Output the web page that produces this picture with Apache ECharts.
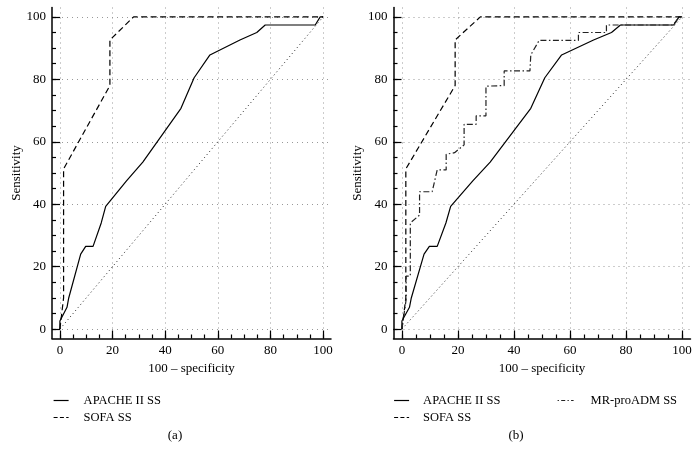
<!DOCTYPE html>
<html><head><meta charset="utf-8">
<script src="https://cdn.jsdelivr.net/npm/echarts@6/dist/echarts.min.js"></script>
<style>html,body{margin:0;padding:0;background:#fff}#c{width:700px;height:451px}</style>
</head><body><div id="c"></div>
<script>
// ---- data ----
const majorTicks = [0, 20, 40, 60, 80, 100];
const minorTicks = [0, 5, 10, 15, 20, 25, 30, 35, 40, 45, 50, 55, 60, 65, 70, 75, 80, 85, 90, 95, 100];
const seriesNames = ['APACHE II SS', 'SOFA SS', 'MR-proADM SS'];
const panelCaptions = ['(a)', '(b)'];
const xAxisTitle = '100 \u2013 specificity';
const yAxisTitle = 'Sensitivity';

const apache = [[0,0],[0,2.6],[2.7,7],[3.3,9.8],[7.9,24],[9.8,26.5],[12.6,26.5],[15.7,34],[17.4,39.3],[25.3,47.5],[31.5,53.5],[46,70.7],[51,80.5],[57,87.8],[68.4,92.6],[74.8,95],[78,97.4],[97,97.4],[98.9,100],[100,100]];
const sofa = [[0,0],[1.4,10],[1.4,51.3],[19,78],[19,92.6],[28,100],[100,100]];
const mrproadm = [[0,0],[1.5,9.4],[1.5,17],[3,17],[3,34],[6.3,36.5],[6.3,44],[10.8,44],[12.6,51],[15.8,51],[15.8,56],[18.8,56.5],[22.2,59],[22.2,65.6],[26.5,65.6],[26.5,68.3],[30,68.3],[30,77.8],[36.5,78],[36.5,82.7],[45.7,82.7],[46,87.8],[49,92.5],[63,92.5],[63,95],[73,95],[73,97.4],[96.8,97.4],[99,100],[100,100]];
const diagonal = [[0,0],[100,100]];

// ---- styles ----
const FONT = 'Liberation Serif';
const AX_MIN = -3, AX_MAX = 103;
const grids = [
  {left: 52, top: 7.5, width: 279, height: 331},
  {left: 393.5, top: 7.5, width: 297, height: 331}
];

function mainAxis(dim, g) {
  const isX = dim === 'x';
  return {
    gridIndex: g, type: 'value', min: AX_MIN, max: AX_MAX,
    position: isX ? 'bottom' : 'left',
    name: isX ? xAxisTitle : yAxisTitle,
    nameLocation: 'middle', nameGap: isX ? 24 : 29,
    nameTextStyle: {fontFamily: FONT, fontSize: 13, color: '#000'},
    axisLine: {show: true, onZero: false, lineStyle: {color: '#000', width: 1.5}},
    axisTick: {show: true, inside: true, length: 8, customValues: majorTicks, lineStyle: {color: '#000', width: 1.2}},
    axisLabel: {show: true, customValues: majorTicks, margin: 6, fontFamily: FONT, fontSize: 13, color: '#000'},
    splitLine: {show: true, lineStyle: {color: '#999', width: 1, type: [1, 4]}},
    minorTick: {show: false}
  };
}
function minorAxis(dim, g) {
  const isX = dim === 'x';
  return {
    gridIndex: g, type: 'value', min: AX_MIN, max: AX_MAX,
    position: isX ? 'bottom' : 'left',
    axisLine: {show: false, onZero: false},
    axisTick: {show: true, inside: true, length: 4, customValues: minorTicks, lineStyle: {color: '#000', width: 1.2}},
    axisLabel: {show: false},
    splitLine: {show: false}
  };
}

const xAxes = [], yAxes = [];
[0, 1].forEach(g => {
  xAxes.push(mainAxis('x', g), minorAxis('x', g));
  yAxes.push(mainAxis('y', g), minorAxis('y', g));
});

const solid = {color: '#000', width: 1.2, type: 'solid'};
const dashed = {color: '#000', width: 1.2, type: [6, 3.5]};
const dashDot = {color: '#222', width: 1.2, type: [6, 2.5, 1.5, 2.5]};
const dotted = {color: '#222', width: 1, type: [1, 3]};

function line(name, data, g, style) {
  const s = {
    type: 'line', data: data, xAxisIndex: 2 * g, yAxisIndex: 2 * g,
    symbol: 'none', lineStyle: style, itemStyle: {color: '#000'},
    silent: true, animation: false, z: 3
  };
  if (name) s.name = name;
  return s;
}

const series = [
  line(null, diagonal, 0, dotted),
  line(seriesNames[0], apache, 0, solid),
  line(seriesNames[1], sofa, 0, dashed),
  line(null, diagonal, 1, dotted),
  line(seriesNames[0], apache, 1, solid),
  line(seriesNames[1], sofa, 1, dashed),
  line(seriesNames[2], mrproadm, 1, dashDot)
];

function legend(left, names, width, gapToText) {
  return {
    left: left, top: 394, orient: 'vertical', selectedMode: false, padding: 0,
    itemWidth: width, itemHeight: 10, itemGap: 4,
    itemStyle: {opacity: 0},
    textStyle: {fontFamily: FONT, fontSize: 12.5, color: '#000', padding: [0, 0, 0, gapToText - 5]},
    data: names.map(n => {
      if (n === seriesNames[1]) return {name: n, lineStyle: {type: [4, 2.3], width: 1.2}};
      if (n === seriesNames[2]) return {name: n, lineStyle: {type: [1.3, 2.3, 4, 2.3], width: 1.2}};
      return {name: n, lineStyle: {width: 1.2}};
    })
  };
}

const option = {
  backgroundColor: '#fff',
  animation: false,
  grid: grids,
  xAxis: xAxes,
  yAxis: yAxes,
  legend: [
    legend(53, [seriesNames[0], seriesNames[1]], 15, 15),
    legend(393.5, [seriesNames[0], seriesNames[1]], 15, 14),
    legend(557, [seriesNames[2]], 16, 17)
  ],
  graphic: [
    {type: 'text', x: 175, y: 436, style: {text: panelCaptions[0], font: '13px "Liberation Serif"', fill: '#000', textAlign: 'center', textVerticalAlign: 'middle'}},
    {type: 'text', x: 516, y: 436, style: {text: panelCaptions[1], font: '13px "Liberation Serif"', fill: '#000', textAlign: 'center', textVerticalAlign: 'middle'}}
  ],
  series: series
};

const chart = echarts.init(document.getElementById('c'), null, {renderer: 'canvas'});
chart.setOption(option);
</script>
</body></html>
